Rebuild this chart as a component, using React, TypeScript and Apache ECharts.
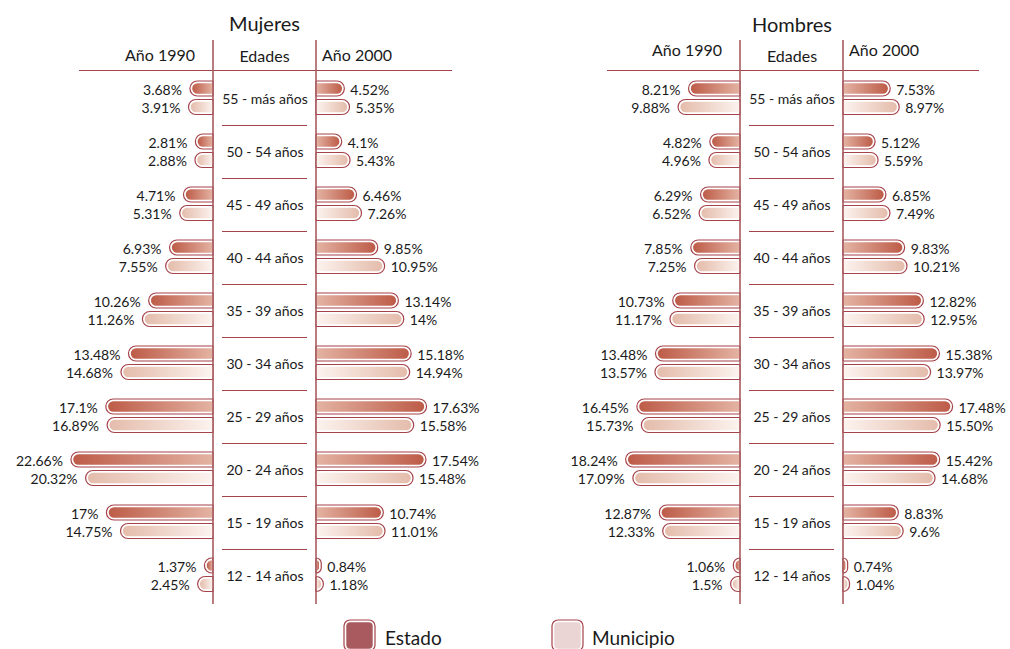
import React, { useEffect, useRef } from "react";
import * as echarts from "echarts";

const categories = [
  "55 - más años",
  "50 - 54 años",
  "45 - 49 años",
  "40 - 44 años",
  "35 - 39 años",
  "30 - 34 años",
  "25 - 29 años",
  "20 - 24 años",
  "15 - 19 años",
  "12 - 14 años",
];

// values as printed (strings keep the original formatting, e.g. "15.50")
const mujeres1990Estado = ["3.68", "2.81", "4.71", "6.93", "10.26", "13.48", "17.1", "22.66", "17", "1.37"];
const mujeres1990Municipio = ["3.91", "2.88", "5.31", "7.55", "11.26", "14.68", "16.89", "20.32", "14.75", "2.45"];
const mujeres2000Estado = ["4.52", "4.1", "6.46", "9.85", "13.14", "15.18", "17.63", "17.54", "10.74", "0.84"];
const mujeres2000Municipio = ["5.35", "5.43", "7.26", "10.95", "14", "14.94", "15.58", "15.48", "11.01", "1.18"];
const hombres1990Estado = ["8.21", "4.82", "6.29", "7.85", "10.73", "13.48", "16.45", "18.24", "12.87", "1.06"];
const hombres1990Municipio = ["9.88", "4.96", "6.52", "7.25", "11.17", "13.57", "15.73", "17.09", "12.33", "1.5"];
const hombres2000Estado = ["7.53", "5.12", "6.85", "9.83", "12.82", "15.38", "17.48", "15.42", "8.83", "0.74"];
const hombres2000Municipio = ["8.97", "5.59", "7.49", "10.21", "12.95", "13.97", "15.50", "14.68", "9.6", "1.04"];

const FONT = "Lato, 'Open Sans', sans-serif";
const DARK = "#a5434a";
const AX_MAX = 25;
const GRID_W = 156.75;
const GRID_TOP = 71.5;
const GRID_H = 530;

function barSeries(
  name: string,
  vals: string[],
  gridIndex: number,
  side: "left" | "right",
  kind: "estado" | "municipio"
) {
  return {
    type: "custom",
    name,
    xAxisIndex: gridIndex,
    yAxisIndex: gridIndex,
    clip: false,
    z: 3,
    data: vals.map((v, i) => [parseFloat(v), i]),
    renderItem: (params: any, api: any) => {
      const v = api.value(0);
      const c = api.value(1);
      const p0 = api.coord([0, c]);
      const p1 = api.coord([v, c]);
      const off = kind === "estado" ? -9.5 : 9;
      const h = 15;
      const cy = p0[1] + off;
      const y = cy - h / 2;
      const x = Math.min(p0[0], p1[0]);
      const w = Math.abs(p1[0] - p0[0]);
      const r = h / 2;
      const inset = 2.3;
      const ir = r - inset;
      const outerR = side === "left" ? [r, 0, 0, r] : [0, r, r, 0];
      const innerR = side === "left" ? [ir, 0, 0, ir] : [0, ir, ir, 0];
      const ix = side === "left" ? x + inset : x;
      const iw = Math.max(w - inset, 0.5);
      const colors = kind === "estado" ? ["#bd5c48", "#e4b3a3"] : ["#e4bcab", "#fcf3ef"];
      const stops =
        side === "left"
          ? [
              { offset: 0, color: colors[0] },
              { offset: 1, color: colors[1] },
            ]
          : [
              { offset: 0, color: colors[1] },
              { offset: 1, color: colors[0] },
            ];
      const label = vals[params.dataIndex] + "%";
      const tx = side === "left" ? x - 8 : x + w + 6;
      const align = side === "left" ? "right" : "left";
      return {
        type: "group",
        children: [
          {
            type: "rect",
            shape: { x, y, width: w, height: h, r: outerR },
            style: { fill: "#ffffff", stroke: DARK, lineWidth: 1.2 },
          },
          {
            type: "rect",
            shape: { x: ix, y: y + inset, width: iw, height: h - 2 * inset, r: innerR },
            style: { fill: new echarts.graphic.LinearGradient(0, 0, 1, 0, stops) },
          },
          {
            type: "text",
            style: {
              text: label,
              x: tx,
              y: cy + 0.5,
              align,
              textAlign: align,
              verticalAlign: "middle",
              textVerticalAlign: "middle",
              font: `14px ${FONT}`,
              fill: "#1a1a1a",
            },
          },
        ],
      };
    },
  };
}

function separatorSeries(gridIndex: number) {
  return {
    type: "custom",
    xAxisIndex: gridIndex,
    yAxisIndex: gridIndex,
    clip: false,
    silent: true,
    z: 5,
    data: categories.slice(0, categories.length - 1).map((_, i) => [0, i]),
    renderItem: (params: any, api: any) => {
      const p = api.coord([0, api.value(1)]);
      const s = api.size([0, 1]);
      const y = Math.round(p[1] + s[1] / 2) + 0.5;
      return {
        type: "line",
        shape: { x1: p[0] - 94, y1: y, x2: p[0] - 9, y2: y },
        style: { stroke: DARK, lineWidth: 1.2 },
      };
    },
  };
}

function txt(text: string, x: number, y: number, size: number, align = "center") {
  return {
    type: "text",
    z: 20,
    style: {
      text,
      x,
      y,
      align,
      textAlign: align,
      verticalAlign: "middle",
      textVerticalAlign: "middle",
      font: `${size}px ${FONT}`,
      fill: "#1a1a1a",
    },
  };
}

function vline(x: number) {
  return {
    type: "line",
    z: 20,
    shape: { x1: x, y1: 40, x2: x, y2: 604 },
    style: { stroke: "#a85c60", lineWidth: 1.6 },
  };
}

function hline(x1: number, x2: number, y: number) {
  return {
    type: "line",
    z: 20,
    shape: { x1, y1: y, x2, y2: y },
    style: { stroke: DARK, lineWidth: 1.2 },
  };
}

function legendBox(x: number, y: number, fill: string) {
  return [
    {
      type: "rect",
      z: 20,
      shape: { x, y, width: 31, height: 31, r: 6 },
      style: { fill: "#ffffff", stroke: DARK, lineWidth: 1.2 },
    },
    {
      type: "rect",
      z: 21,
      shape: { x: x + 2.3, y: y + 2.3, width: 26.4, height: 26.4, r: 4 },
      style: { fill },
    },
  ];
}

export default function App() {
  const ref = useRef<HTMLDivElement>(null);
  useEffect(() => {
    if (!ref.current) return;
    const chart = echarts.init(ref.current, undefined, { renderer: "svg" });
    const gridLefts = [213 - GRID_W, 316, 740 - GRID_W, 843];
    const grids = gridLefts.map((l) => ({ left: l, top: GRID_TOP, width: GRID_W, height: GRID_H }));
    const xAxes = gridLefts.map((_, i) => ({
      type: "value",
      gridIndex: i,
      min: 0,
      max: AX_MAX,
      inverse: i % 2 === 0,
      show: false,
    }));
    const yAxes = gridLefts.map((_, i) => ({
      type: "category",
      gridIndex: i,
      data: categories,
      inverse: true,
      show: i % 2 === 1,
      axisLine: { show: false },
      axisTick: { show: false },
      splitLine: { show: false },
      axisLabel: {
        show: i % 2 === 1,
        align: "center",
        margin: 51,
        fontSize: 14,
        fontFamily: FONT,
        color: "#1a1a1a",
      },
    }));
    const option: any = {
      animation: false,
      backgroundColor: "#ffffff",
      grid: grids,
      xAxis: xAxes,
      yAxis: yAxes,
      series: [
        barSeries("Estado", mujeres1990Estado, 0, "left", "estado"),
        barSeries("Municipio", mujeres1990Municipio, 0, "left", "municipio"),
        barSeries("Estado", mujeres2000Estado, 1, "right", "estado"),
        barSeries("Municipio", mujeres2000Municipio, 1, "right", "municipio"),
        barSeries("Estado", hombres1990Estado, 2, "left", "estado"),
        barSeries("Municipio", hombres1990Municipio, 2, "left", "municipio"),
        barSeries("Estado", hombres2000Estado, 3, "right", "estado"),
        barSeries("Municipio", hombres2000Municipio, 3, "right", "municipio"),
        separatorSeries(1),
        separatorSeries(3),
      ],
      graphic: [
        txt("Mujeres", 264.5, 23, 20),
        txt("Año 1990", 160, 54, 16),
        txt("Edades", 264.5, 55, 16),
        txt("Año 2000", 357, 54, 16),
        txt("Hombres", 792, 24, 20),
        txt("Año 1990", 687, 49, 16),
        txt("Edades", 792, 55, 16),
        txt("Año 2000", 884, 49, 16),
        hline(79, 452, 70.5),
        hline(607, 979, 70.5),
        vline(213),
        vline(316),
        vline(740),
        vline(843),
        ...legendBox(344, 620, "#a85a5e"),
        txt("Estado", 385, 637, 19, "left"),
        ...legendBox(552, 620, "#ead4d4"),
        txt("Municipio", 592, 637, 19, "left"),
      ],
    };
    chart.setOption(option);
    return () => chart.dispose();
  }, []);
  return (
    <div
      ref={ref}
      style={{ position: "fixed", left: 0, top: 0, width: 1010, height: 649, background: "#fff" }}
    />
  );
}
